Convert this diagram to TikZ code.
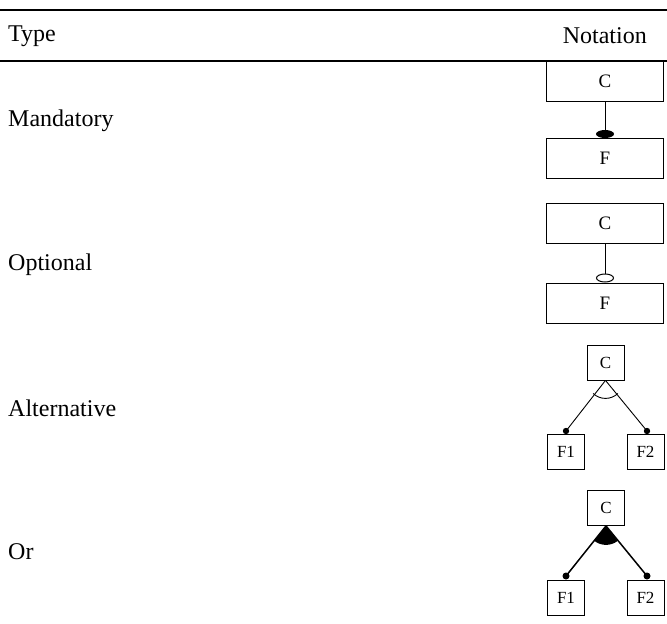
\documentclass[tikz,border=0pt]{standalone}
\usepackage{fontspec}
\setmainfont{Liberation Serif}
\begin{document}
\begin{tikzpicture}[x=1pt,y=-1pt,
  lbl/.style={anchor=west,font=\fontsize{24}{28}\selectfont,inner sep=0pt},
  bigbox/.style={draw,line width=1pt,minimum width=117pt,minimum height=40pt,inner sep=0pt,font=\fontsize{19}{22}\selectfont},
  smallbox/.style={draw,line width=0.8pt,minimum width=37pt,minimum height=35pt,inner sep=0pt,font=\fontsize{17}{20}\selectfont},
  conn/.style={line width=0.9pt},
  thick conn/.style={line width=1.5pt}]
\useasboundingbox (0,0) rectangle (667,624);
% table rules
\coordinate (l1a) at (0,10); \coordinate (l1b) at (667,10);
\coordinate (l2a) at (0,61); \coordinate (l2b) at (667,61);
\draw[line width=1.2pt] (l1a) -- (l1b);
\draw[line width=1.6pt] (l2a) -- (l2b);
\node[lbl] (type) at (8,36) {Type};
\node[lbl,anchor=east] (notation) at (647,36) {Notation};
% Mandatory
\node[lbl] (mand) at (8,121) {Mandatory};
\node[bigbox] (mc) at (605,81.5) {C};
\node[bigbox] (mf) at (605,158.5) {F};
\coordinate (md) at (605,134);
\draw[conn] (mc.south) -- (md);
\fill (md) ellipse (9pt and 4pt);
% Optional
\node[lbl] (opt) at (8,265) {Optional};
\node[bigbox] (oc) at (605,223.5) {C};
\node[bigbox] (of) at (605,303) {F};
\coordinate (od) at (605,278);
\draw[conn] (oc.south) -- (od);
\draw[line width=1pt,fill=white] (od) ellipse (8.5pt and 4pt);
% Alternative
\node[lbl] (alt) at (8,408) {Alternative};
\node[smallbox] (ac) at (605.5,362.5) {C};
\node[smallbox] (af1) at (566,452) {F1};
\node[smallbox] (af2) at (645.5,452) {F2};
\coordinate (ad1) at (566,431);
\coordinate (ad2) at (647,431);
\draw[conn] (ac.south) -- (ad1);
\draw[conn] (ac.south) -- (ad2);
\fill (ad1) circle (3.2pt);
\fill (ad2) circle (3.2pt);
\draw[conn] (ac.south) ++(133.3:18) arc (133.3:46.7:18);
% Or
\node[lbl] (or) at (8,552) {Or};
\node[smallbox] (rc) at (606,508) {C};
\node[smallbox] (rf1) at (566,598) {F1};
\node[smallbox] (rf2) at (645.5,598) {F2};
\coordinate (rd1) at (566,576);
\coordinate (rd2) at (647,576);
\fill (rc.south) -- ++(128:19) arc (128:52:19) -- cycle;
\draw[thick conn] (rc.south) -- (rd1);
\draw[thick conn] (rc.south) -- (rd2);
\fill (rd1) circle (3.5pt);
\fill (rd2) circle (3.5pt);
\end{tikzpicture}
\end{document}
